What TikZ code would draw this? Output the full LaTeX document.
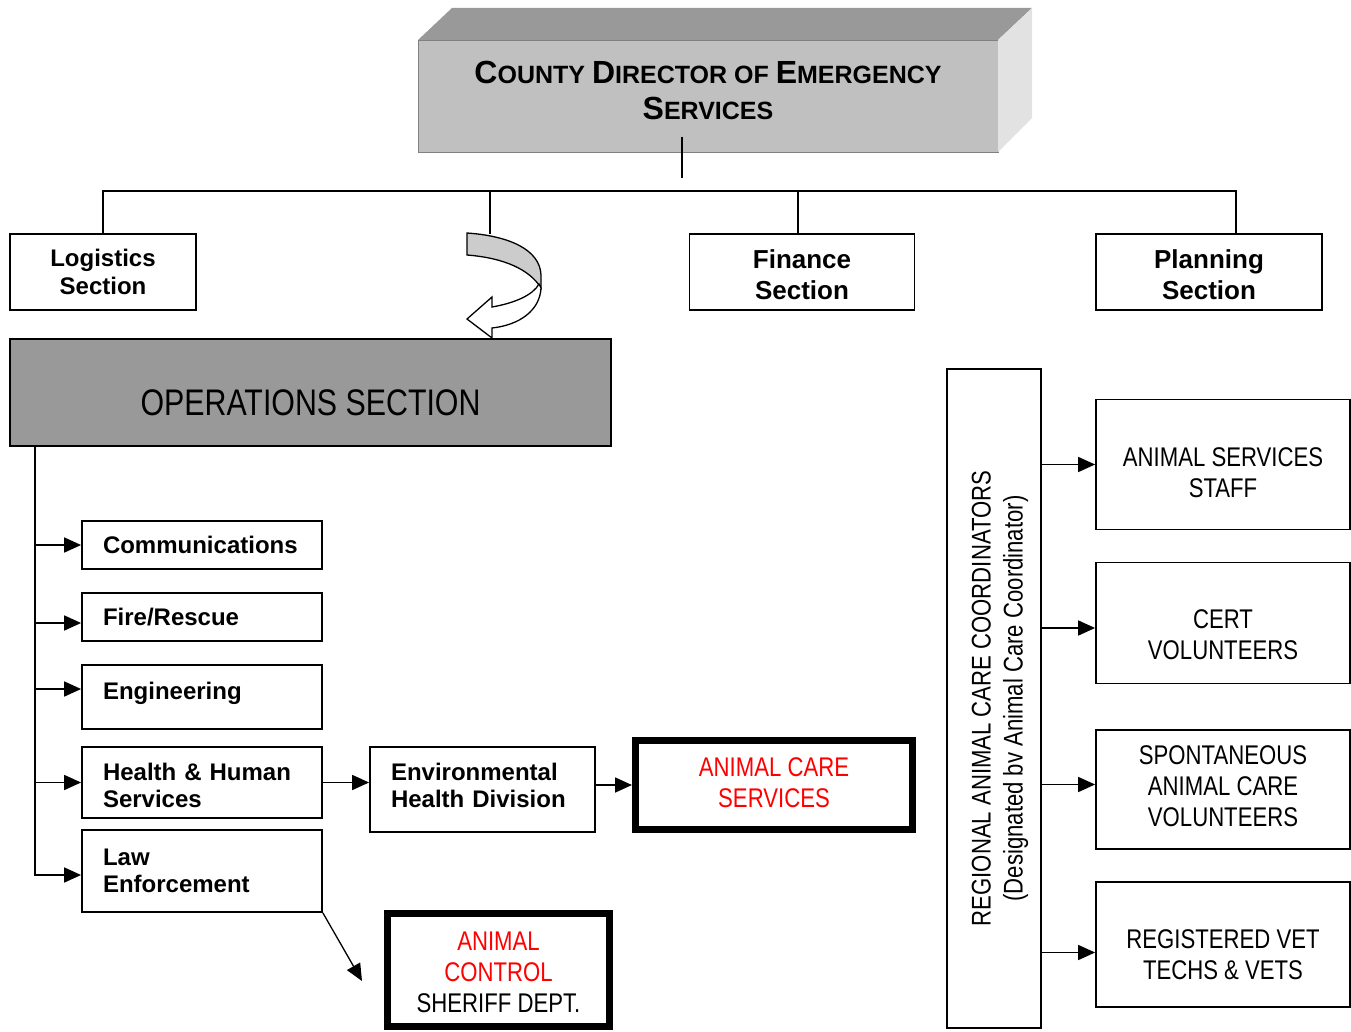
\documentclass[tikz,border=0pt]{standalone}
\usepackage{fontspec}
\setmainfont{Liberation Sans}
\newfontfamily\narrowfont[FakeStretch=0.82]{Liberation Sans}
\usetikzlibrary{arrows.meta,calc}

\definecolor{frontgray}{HTML}{C0C0C0}
\definecolor{topgray}{HTML}{999999}
\definecolor{sidegray}{HTML}{E2E2E2}
\definecolor{opsgray}{HTML}{999999}
\definecolor{bandgray}{HTML}{CCCCCC}
\definecolor{alertred}{HTML}{FF0000}

\newcommand\capsword[2]{{\fontsize{32}{36}\selectfont #1}#2}
\newcommand\padtop[1]{\rule{0pt}{#1}}
\newcommand\padbot[1]{\rule[-#1]{0pt}{#1}}

\begin{document}
\begin{tikzpicture}[x=1pt,y=-1pt,
  box/.style={draw,line width=1.8pt,inner sep=0pt},
  dirbox/.style={fill=frontgray,draw=gray,line width=0.8pt,outer sep=0pt,
    minimum width=580,minimum height=112,align=center,
    font=\bfseries\fontsize{25}{36}\selectfont},
  headbox/.style={box,minimum width=226,minimum height=76,align=center,
    font=\bfseries\fontsize{26}{31}\selectfont},
  unitbox/.style={box,minimum width=240,text width=198pt,align=left,
    font=\bfseries\fontsize{24}{27}\selectfont},
  teambox/.style={box,minimum width=254,align=center,
    font=\narrowfont\fontsize{27}{31}\selectfont},
  keybox/.style={draw,line width=7pt,inner sep=0pt,align=center,
    text=alertred,font=\narrowfont\fontsize{27}{31}\selectfont},
  arr/.style={-{Triangle[length=17pt,width=15pt]},line width=1.7pt},
  bus/.style={line width=1.5pt}]
\useasboundingbox (0,0) rectangle (1351,1032);

% director block
\node[dirbox] (dir) at (708,96)
  {\capsword{C}{OUNTY} \capsword{D}{IRECTOR} OF \capsword{E}{MERGENCY}\\
   \capsword{S}{ERVICES}\padbot{12pt}};
\fill[topgray] (dir.north west) -- ++(34,-32) -- ++(580,0) -- (dir.north east) -- cycle;
\fill[sidegray] (dir.north east) -- ++(34,-32) -- ++(0,110) -- (dir.south east) -- cycle;

% sections
\node[headbox,minimum width=186,font=\bfseries\fontsize{24}{28}\selectfont]
  (log) at (103,272) {Logistics\\Section};
\node[headbox,minimum width=225] (fin) at (802,272) {\padtop{25pt}Finance\\Section};
\node[headbox] (plan) at (1209,272) {\padtop{25pt}Planning\\Section};
\node[box,fill=opsgray,minimum width=601,minimum height=107,text height=45pt,
  text depth=0pt,font=\narrowfont\fontsize{37}{40}\selectfont]
  (ops) at (310.5,392.5) {OPERATIONS SECTION};

\coordinate (stem) at (682,137);
\coordinate (stemfoot) at (682,178);
\coordinate (busL) at (103,191);
\coordinate (busR) at (1236,191);
\coordinate (bandtop) at (490,234);
\coordinate (findrop) at (798,234);
\draw[bus] (stem) -- (stemfoot);
\draw[bus] (log.north) -- (busL) -- (busR) -- (busR |- plan.north);
\draw[bus] (findrop |- busL) -- (findrop);
\draw[bus] (bandtop |- busL) -- (bandtop);

% curved arrow down to operations
\filldraw[fill=bandgray,line width=1.3pt]
  (467,233) .. controls (510,236) and (540,250) .. (541,275) -- (541,288)
  .. controls (530,270) and (505,258) .. (467,255) -- cycle;
\filldraw[fill=white,line width=1.3pt]
  (541,288) .. controls (540,310) and (520,325) .. (492,328) -- (492,338)
  -- (467,319) -- (492,297) -- (492,307)
  .. controls (515,303) and (533,295) .. (539,284) -- cycle;

% operations units
\node[unitbox,minimum height=48] (comm) at (202,545) {Communications};
\node[unitbox,minimum height=48] (fire) at (202,617) {Fire/Rescue};
\node[unitbox,minimum height=64,text height=18pt,text depth=13pt]
  (eng) at (202,697) {Engineering};
\node[unitbox,minimum height=71] (hhs) at (202,782.5) {\padtop{23pt}Health \& Human\\Services};
\node[unitbox,minimum height=82] (law) at (202,871) {Law\\Enforcement};
\node[unitbox,minimum width=225,minimum height=85,text width=183pt]
  (env) at (482.5,789.5) {Environmental\\Health Division\padbot{8pt}};

\node[keybox,minimum width=277,minimum height=89] (care) at (774,785)
  {ANIMAL CARE\\SERVICES\padbot{4pt}};
\node[keybox,minimum width=222,minimum height=113] (ctrl) at (498.5,969.5)
  {\padtop{25pt}ANIMAL\\CONTROL\\\textcolor{black}{SHERIFF DEPT.}};

\coordinate (spine) at (35,446);
\coordinate (ctip) at (362,981);
\draw[arr] (spine) |- ($(law.west)+(0,4)$);
\draw[arr] (spine |- comm.west) -- (comm.west);
\draw[arr] ($(spine |- fire.west)+(0,6)$) -- ($(fire.west)+(0,6)$);
\draw[arr] ($(spine |- eng.west)+(0,-8)$) -- ($(eng.west)+(0,-8)$);
\draw[arr] (spine |- hhs.west) -- (hhs.west);
\draw[arr] (hhs.east) -- (hhs.east -| env.west);
\draw[arr] (env.east |- care.west) -- (care.west);
\draw[arr,line width=1.3pt] (law.south east) -- (ctip);

% regional coordinators
\node[box,rotate=90,minimum width=659,minimum height=94,align=center,
  font=\narrowfont\fontsize{27}{32}\selectfont] (coord) at (994,698.5)
  {\padtop{31pt}REGIONAL ANIMAL CARE COORDINATORS\\(Designated bv Animal Care Coordinator)};

\node[teambox,minimum height=130] (staff) at (1223,464.5)
  {\padtop{35pt}ANIMAL SERVICES\\STAFF};
\node[teambox,minimum height=121] (cert) at (1223,623)
  {\padtop{43pt}CERT\\VOLUNTEERS};
\node[teambox,minimum height=119] (spont) at (1223,789.5)
  {SPONTANEOUS\\ANIMAL CARE\\VOLUNTEERS\padbot{6pt}};
\node[teambox,minimum height=125] (reg) at (1223,944.5)
  {\padtop{39pt}REGISTERED VET\\TECHS \& VETS};

\draw[arr] (coord.south |- staff.west) -- (staff.west);
\draw[arr] ($(coord.south |- cert.west)+(0,5)$) -- ($(cert.west)+(0,5)$);
\draw[arr] ($(coord.south |- spont.west)+(0,-5)$) -- ($(spont.west)+(0,-5)$);
\draw[arr] ($(coord.south |- reg.west)+(0,8)$) -- ($(reg.west)+(0,8)$);

\end{tikzpicture}
\end{document}
